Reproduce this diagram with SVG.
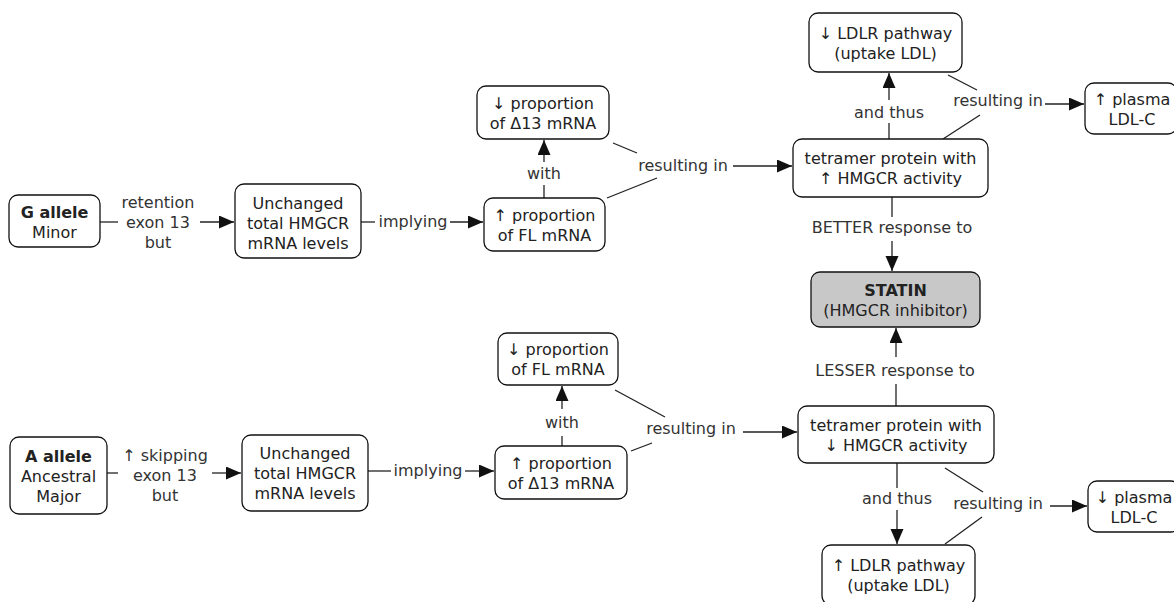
<svg xmlns="http://www.w3.org/2000/svg" width="1174" height="602" viewBox="0 0 1174 602">
  <style>
    text { font-family: "DejaVu Sans", Verdana, sans-serif; font-size: 16px; fill: #222; text-anchor: middle; }
    .b { font-weight: bold; }
    .box { fill: #fff; stroke: #111; stroke-width: 1.3; }
    .drug { fill: #c8c8c8; stroke: #111; stroke-width: 1.3; }
    .ln { stroke: #222; stroke-width: 1.3; fill: none; }
    .arr { stroke: #222; stroke-width: 1.3; fill: none; marker-end: url(#head); }
    .lbl { fill: #333; }
  </style>
  <defs>
    <marker id="head" markerUnits="userSpaceOnUse" markerWidth="16" markerHeight="14" refX="15" refY="6.5" orient="auto">
      <path d="M0,0 L15,6.5 L0,13 z" fill="#111"/>
    </marker>
  </defs>

  <rect width="1174" height="602" fill="#fff"/>

  <!-- links and linking phrases -->
  <g id="connectors">
    <!-- G allele -> unchanged total mRNA -->
    <line class="ln" x1="100" y1="222" x2="118" y2="222"/>
    <text class="lbl" x="158" y="208">retention</text>
    <text class="lbl" x="158" y="228">exon 13</text>
    <text class="lbl" x="158" y="248">but</text>
    <line class="arr" x1="200" y1="222" x2="234" y2="222"/>

    <!-- unchanged -> up FL -->
    <line class="ln" x1="361" y1="222" x2="375" y2="222"/>
    <text class="lbl" x="413" y="227">implying</text>
    <line class="arr" x1="450" y1="222" x2="483" y2="222"/>

    <!-- up FL -> down delta13 -->
    <line class="ln" x1="544" y1="198" x2="544" y2="185"/>
    <text class="lbl" x="544" y="179">with</text>
    <line class="arr" x1="544" y1="162" x2="544" y2="140"/>

    <!-- upper resulting in -> tetramer up -->
    <line class="ln" x1="613" y1="143" x2="637" y2="153"/>
    <line class="ln" x1="607" y1="198" x2="657" y2="178"/>
    <text class="lbl" x="683" y="171">resulting in</text>
    <line class="arr" x1="733" y1="166" x2="792" y2="166"/>

    <!-- tetramer up -> LDLR down -->
    <line class="ln" x1="889" y1="139" x2="889" y2="123"/>
    <text class="lbl" x="889" y="118">and thus</text>
    <line class="arr" x1="889" y1="100" x2="889" y2="73"/>

    <!-- resulting in -> plasma LDL-C up -->
    <line class="ln" x1="948" y1="75" x2="977" y2="90"/>
    <line class="ln" x1="943" y1="139" x2="980" y2="115"/>
    <text class="lbl" x="998" y="106">resulting in</text>
    <line class="arr" x1="1045" y1="104" x2="1084" y2="104"/>

    <!-- tetramer up -> statin -->
    <line class="ln" x1="892" y1="197" x2="892" y2="217"/>
    <text class="lbl" x="892" y="233">BETTER response to</text>
    <line class="arr" x1="892" y1="241" x2="892" y2="271"/>

    <!-- A allele -> unchanged total mRNA -->
    <line class="ln" x1="107" y1="473" x2="118" y2="473"/>
    <text class="lbl" x="165" y="461">↑ skipping</text>
    <text class="lbl" x="165" y="481">exon 13</text>
    <text class="lbl" x="165" y="501">but</text>
    <line class="arr" x1="212" y1="473" x2="241" y2="473"/>

    <!-- unchanged -> up delta13 -->
    <line class="ln" x1="368" y1="471" x2="391" y2="471"/>
    <text class="lbl" x="428" y="476">implying</text>
    <line class="arr" x1="465" y1="471" x2="494" y2="471"/>

    <!-- up delta13 -> down FL -->
    <line class="ln" x1="562" y1="446" x2="562" y2="436"/>
    <text class="lbl" x="562" y="428">with</text>
    <line class="arr" x1="562" y1="409" x2="562" y2="386"/>

    <!-- lower resulting in -> tetramer down -->
    <line class="ln" x1="615" y1="390" x2="665" y2="417"/>
    <line class="ln" x1="631" y1="451" x2="652" y2="443"/>
    <text class="lbl" x="691" y="434">resulting in</text>
    <line class="arr" x1="743" y1="432" x2="797" y2="432"/>

    <!-- tetramer down -> statin -->
    <line class="ln" x1="896" y1="406" x2="896" y2="384"/>
    <text class="lbl" x="895" y="376">LESSER response to</text>
    <line class="arr" x1="896" y1="357" x2="896" y2="328"/>

    <!-- tetramer down -> LDLR up -->
    <line class="ln" x1="897" y1="463" x2="897" y2="488"/>
    <text class="lbl" x="897" y="504">and thus</text>
    <line class="arr" x1="897" y1="510" x2="897" y2="544"/>

    <!-- resulting in -> plasma LDL-C down -->
    <line class="ln" x1="945" y1="468" x2="983" y2="492"/>
    <line class="ln" x1="945" y1="544" x2="982" y2="517"/>
    <text class="lbl" x="998" y="509">resulting in</text>
    <line class="arr" x1="1050" y1="506" x2="1087" y2="506"/>
  </g>

  <!-- concepts -->
  <g id="g-allele">
    <rect class="box" x="9" y="195" width="91" height="52" rx="9"/>
    <text class="b" x="54.5" y="218">G allele</text>
    <text x="54.5" y="238">Minor</text>
  </g>
  <g id="unchanged-g">
    <rect class="box" x="235" y="184" width="126" height="74" rx="9"/>
    <text x="298" y="209">Unchanged</text>
    <text x="298" y="229">total HMGCR</text>
    <text x="298" y="249">mRNA levels</text>
  </g>
  <g id="fl-up">
    <rect class="box" x="484" y="198" width="121" height="53" rx="9"/>
    <text x="544.5" y="221">↑ proportion</text>
    <text x="544.5" y="241">of FL mRNA</text>
  </g>
  <g id="d13-down">
    <rect class="box" x="477" y="86" width="132" height="53" rx="9"/>
    <text x="543" y="109">↓ proportion</text>
    <text x="543" y="129">of Δ13 mRNA</text>
  </g>
  <g id="tetramer-up">
    <rect class="box" x="793" y="139" width="195" height="58" rx="9"/>
    <text x="890.5" y="164">tetramer protein with</text>
    <text x="890.5" y="184">↑ HMGCR activity</text>
  </g>
  <g id="ldlr-down">
    <rect class="box" x="809" y="13" width="153" height="59" rx="9"/>
    <text x="885.5" y="38.5">↓ LDLR pathway</text>
    <text x="885.5" y="58.5">(uptake LDL)</text>
  </g>
  <g id="plasma-up">
    <rect class="box" x="1085" y="83" width="92" height="51" rx="9"/>
    <text x="1132" y="104.5">↑ plasma</text>
    <text x="1132" y="124.5">LDL-C</text>
  </g>
  <g id="statin">
    <rect class="drug" x="811" y="272" width="169" height="55" rx="9"/>
    <text class="b" x="895.5" y="295.5">STATIN</text>
    <text x="895.5" y="315.5">(HMGCR inhibitor)</text>
  </g>
  <g id="a-allele">
    <rect class="box" x="10" y="437" width="97" height="77" rx="9"/>
    <text class="b" x="58.5" y="461.5">A allele</text>
    <text x="58.5" y="481.5">Ancestral</text>
    <text x="58.5" y="501.5">Major</text>
  </g>
  <g id="unchanged-a">
    <rect class="box" x="242" y="435" width="126" height="76" rx="9"/>
    <text x="305" y="459">Unchanged</text>
    <text x="305" y="479">total HMGCR</text>
    <text x="305" y="499">mRNA levels</text>
  </g>
  <g id="d13-up">
    <rect class="box" x="495" y="446" width="132" height="53" rx="9"/>
    <text x="561" y="468.5">↑ proportion</text>
    <text x="561" y="488.5">of Δ13 mRNA</text>
  </g>
  <g id="fl-down">
    <rect class="box" x="498" y="333" width="120" height="52" rx="9"/>
    <text x="558" y="355">↓ proportion</text>
    <text x="558" y="375">of FL mRNA</text>
  </g>
  <g id="tetramer-down">
    <rect class="box" x="798" y="406" width="196" height="57" rx="9"/>
    <text x="896" y="430.5">tetramer protein with</text>
    <text x="896" y="450.5">↓ HMGCR activity</text>
  </g>
  <g id="ldlr-up">
    <rect class="box" x="822" y="545" width="153" height="60" rx="9"/>
    <text x="898.5" y="571">↑ LDLR pathway</text>
    <text x="898.5" y="591">(uptake LDL)</text>
  </g>
  <g id="plasma-down">
    <rect class="box" x="1088" y="481" width="92" height="51" rx="9"/>
    <text x="1134" y="502.5">↓ plasma</text>
    <text x="1134" y="522.5">LDL-C</text>
  </g>
</svg>
